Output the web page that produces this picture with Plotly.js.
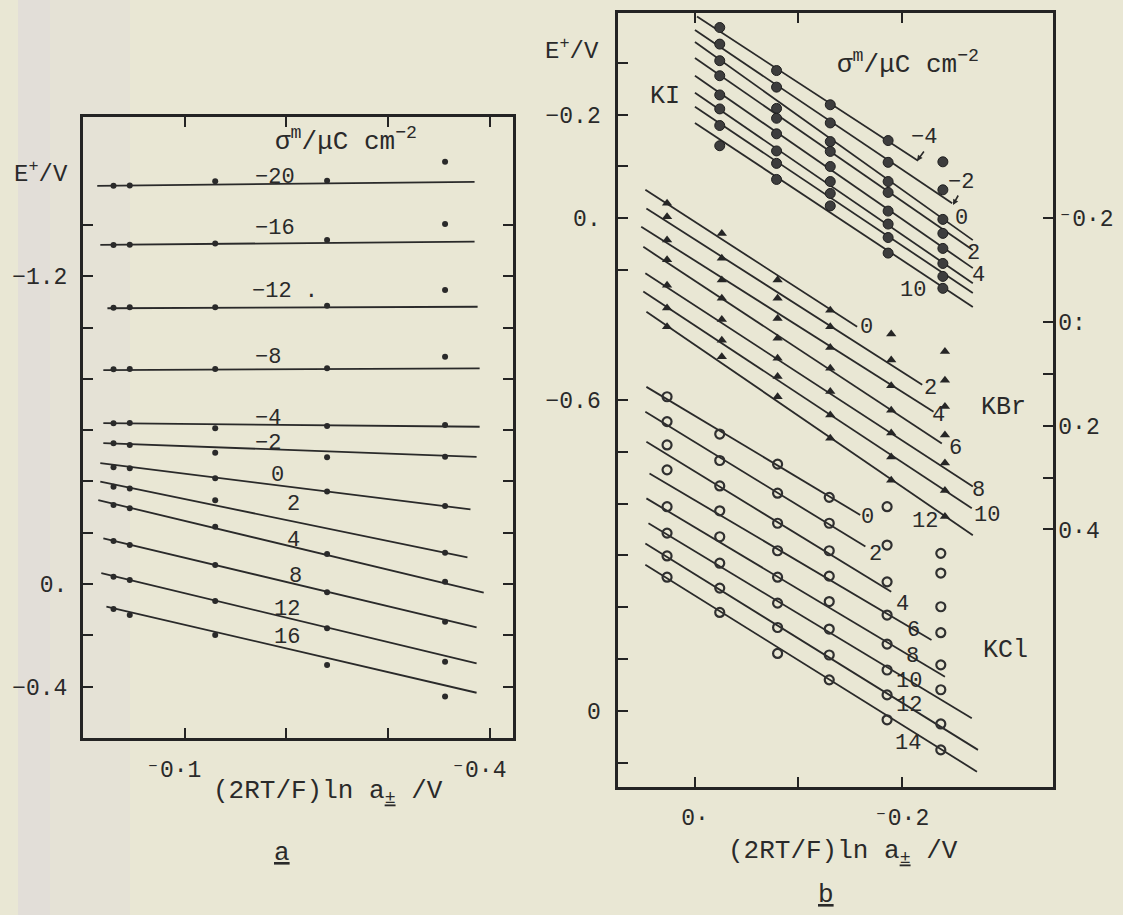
<!DOCTYPE html>
<html>
<head>
<meta charset="utf-8">
<script src="https://cdn.plot.ly/plotly-3.0.1.min.js"></script>
<style>
  html, body { margin: 0; padding: 0; background: #e9e7d4; }
  #chart { width: 1123px; height: 915px; }
</style>
</head>
<body>
<div id="chart"></div>
<script>
// ---------- Panel a: E+ vs (2RT/F) ln a± at constant electrode charge ----------
const aConc = [-0.030, -0.046, -0.130, -0.240, -0.356];
const aSigma = ['−20', '−16', '−12', '−8', '−4', '−2', '0', '2', '4', '8', '12', '16'];
const aE = [
  [-1.553, -1.554, -1.570, -1.572, -1.646],
  [-1.322, -1.323, -1.328, -1.341, -1.404],
  [-1.077, -1.079, -1.079, -1.085, -1.146],
  [-0.837, -0.838, -0.838, -0.841, -0.886],
  [-0.627, -0.628, -0.607, -0.616, -0.620],
  [-0.549, -0.542, -0.512, -0.494, -0.496],
  [-0.455, -0.451, -0.412, -0.361, -0.304],
  [-0.379, -0.372, -0.327, null, -0.122],
  [-0.308, -0.295, -0.223, -0.117, -0.009],
  [-0.168, -0.152, -0.074, 0.032, 0.147],
  [-0.028, -0.016, 0.066, 0.173, 0.303],
  [0.097, 0.121, 0.199, 0.316, 0.439]
];
// fitted straight lines (start and end of each drawn line)
const aLineX0 = [-0.014, -0.017, -0.024, -0.020, -0.020, -0.020, -0.017, -0.017, -0.015, -0.020, -0.018, -0.023];
const aLineY0 = [-1.552, -1.322, -1.075, -0.834, -0.627, -0.549, -0.471, -0.399, -0.327, -0.178, -0.042, 0.088];
const aLineX1 = [-0.385, -0.385, -0.388, -0.390, -0.390, -0.387, -0.381, -0.378, -0.394, -0.387, -0.387, -0.387];
const aLineY1 = [-1.568, -1.335, -1.081, -0.841, -0.613, -0.496, -0.291, -0.104, 0.034, 0.169, 0.309, 0.424];

// ---------- Panel b: KI ----------
const kiConc = [-0.024, -0.079, -0.131, -0.187, -0.240];
const kiSigma = ['−4', '−2', '0', '2', '4', '6', '8', '10'];
const kiE = [
  [-1.318, -1.235, -1.169, -1.100, -1.059],
  [-1.286, -1.203, -1.134, -1.058, -1.005],
  [-1.254, -1.162, -1.098, -1.021, -0.948],
  [-1.225, -1.143, -1.079, -1.000, -0.921],
  [-1.188, -1.113, -1.050, -0.964, -0.892],
  [-1.161, -1.080, -1.021, -0.939, -0.863],
  [-1.129, -1.056, -0.998, -0.913, -0.838],
  [-1.090, -1.025, -0.974, -0.883, -0.815]
];
const kiLineX0 = [-0.002, 0, 0, 0, 0, 0, 0, 0];
const kiLineY0 = [-1.339, -1.313, -1.290, -1.259, -1.225, -1.192, -1.165, -1.134];
const kiLineX1 = [-0.216, -0.249, -0.269, -0.269, -0.269, -0.269, -0.269, -0.269];
const kiLineY1 = [-1.061, -0.979, -0.908, -0.889, -0.854, -0.825, -0.806, -0.779];

// ---------- Panel b: KBr ----------
const kbrConc = [0.027, -0.026, -0.080, -0.131, -0.190, -0.242];
const kbrSigma = ['0', '2', '4', '6', '8', '10', '12'];
const kbrE = [
  [-0.979, -0.921, -0.831, -0.773, -0.727, -0.693],
  [-0.953, -0.873, -0.796, -0.741, -0.677, -0.638],
  [-0.908, -0.831, -0.757, -0.701, -0.627, -0.587],
  [-0.870, -0.796, -0.719, -0.661, -0.580, -0.532],
  [-0.821, -0.755, -0.680, -0.616, -0.536, -0.478],
  [-0.777, -0.715, -0.645, -0.571, -0.490, -0.425],
  [-0.741, -0.683, -0.606, -0.526, -0.445, -0.375]
];
const kbrLineX0 = [0.048, 0.047, 0.052, 0.050, 0.048, 0.050, 0.047];
const kbrLineY0 = [-1.005, -0.969, -0.934, -0.895, -0.844, -0.809, -0.770];
const kbrLineX1 = [-0.157, -0.220, -0.231, -0.239, -0.269, -0.268, -0.269];
const kbrLineY1 = [-0.741, -0.629, -0.577, -0.516, -0.433, -0.391, -0.339];

// ---------- Panel b: KCl ----------
const kclConc = [0.027, -0.024, -0.080, -0.130, -0.186, -0.238];
const kclSigma = ['0', '2', '4', '6', '8', '10', '12', '14'];
const kclE = [
  [-0.606, -0.534, -0.476, -0.412, -0.394, -0.304],
  [-0.558, -0.483, -0.420, -0.362, -0.320, -0.266],
  [-0.513, -0.434, -0.362, -0.309, -0.249, -0.201],
  [-0.465, -0.386, -0.309, -0.260, -0.185, -0.151],
  [-0.394, -0.336, -0.258, -0.211, -0.129, -0.089],
  [-0.343, -0.285, -0.208, -0.158, -0.079, -0.041],
  [-0.299, -0.237, -0.161, -0.108, -0.031, 0.025],
  [-0.258, -0.190, -0.111, -0.060, 0.017, 0.075]
];
const kclLineX0 = [0.047, 0.048, 0.047, 0.044, 0.047, 0.045, 0.048, 0.048];
const kclLineY0 = [-0.625, -0.577, -0.519, -0.458, -0.410, -0.362, -0.323, -0.282];
const kclLineX1 = [-0.160, -0.165, -0.190, -0.229, -0.242, -0.268, -0.274, -0.273];
const kclLineY1 = [-0.378, -0.317, -0.230, -0.137, -0.066, 0.014, 0.075, 0.117];

// ---------- axis ticks (labelled major ticks, unlabelled minor ticks) ----------
const aXTickVals = [-0.1, -0.4];
const aXTickText = ['⁻0·1', '⁻0·4'];
const aXMinorVals = [-0.2, -0.3];
const aYTickVals = [-1.2, 0, 0.4];
const aYTickText = ['−1.2', '0.', '−0.4'];
const aYMinorVals = [-1.4, -1.0, -0.8, -0.6, -0.4, -0.2, 0.2];
const bXTickVals = [0, -0.2];
const bXTickText = ['0·', '⁻0·2'];
const bXMinorVals = [-0.1];
const bYTickVals = [-1.15, -0.95, -0.6, 0];
const bYTickText = ['−0.2', '0.', '−0.6', '0'];
const bYMinorVals = [-1.25, -1.05, -0.85, -0.5, -0.4, -0.3, -0.2, -0.1, 0.1];
const bRightTickVals = [-0.95, -0.75, -0.55, -0.35];
const bRightTickText = ['⁻0·2', '0:', '0·2', '0·4'];
const bRightMinorVals = [-0.65, -0.45];

// ---------- drawing ----------
const W = 1123, H = 915;
const INK = '#2a2a2a';
const FONT = '"Liberation Mono", "DejaVu Sans Mono", monospace';
const BG = '#e9e7d4';

const traces = [];

function addSet(xs, rows, lx0, ly0, lx1, ly1, xa, ya, marker) {
  rows.forEach((row, i) => {
    traces.push({
      x: [lx0[i], lx1[i]], y: [ly0[i], ly1[i]],
      xaxis: xa, yaxis: ya, mode: 'lines',
      line: { color: INK, width: 1.8 },
      hoverinfo: 'skip', showlegend: false
    });
    traces.push({
      x: xs, y: row, xaxis: xa, yaxis: ya, mode: 'markers',
      marker: marker, showlegend: false, cliponaxis: false
    });
  });
}

addSet(aConc, aE, aLineX0, aLineY0, aLineX1, aLineY1, 'x', 'y',
  { symbol: 'circle', size: 6, color: INK });
addSet(kiConc, kiE, kiLineX0, kiLineY0, kiLineX1, kiLineY1, 'x2', 'y2',
  { symbol: 'circle', size: 10, color: '#3d3d3d', line: { color: '#1e1e1e', width: 1 } });
addSet(kbrConc, kbrE, kbrLineX0, kbrLineY0, kbrLineX1, kbrLineY1, 'x2', 'y2',
  { symbol: 'triangle-up', size: 9, color: '#262626' });
addSet(kclConc, kclE, kclLineX0, kclLineY0, kclLineX1, kclLineY1, 'x2', 'y2',
  { symbol: 'circle-open', size: 9, color: '#303030', line: { color: '#303030', width: 2.2 } });

// right-hand scale of panel b
traces.push({ x: [], y: [], xaxis: 'x2', yaxis: 'y3', mode: 'markers', showlegend: false });

// place text by pixel position on the page
function at(px, py) { return { x: px / W, y: 1 - py / H }; }
function label(text, px, py, size) {
  const p = at(px, py);
  return {
    xref: 'paper', yref: 'paper', x: p.x, y: p.y, text: text,
    showarrow: false, xanchor: 'center', yanchor: 'middle', borderpad: 0,
    font: { family: FONT, size: size || 24, color: INK }
  };
}
function arrow(tipX, tipY, ax, ay) {
  const p = at(tipX, tipY);
  return {
    xref: 'paper', yref: 'paper', x: p.x, y: p.y, text: '',
    showarrow: true, ax: ax, ay: ay, arrowhead: 2, arrowsize: 0.7,
    arrowwidth: 1.6, arrowcolor: INK
  };
}
const S = 22;   // curve-label size

const annotations = [
  // panel a
  label('E<sup>+</sup>/V', 41, 172),
  label('σ<sup>m</sup>/μC cm<sup>−2</sup>', 346, 140, 26),
  label(aSigma[0], 275, 177, S), label(aSigma[1], 275, 228, S), label(aSigma[2] + ' .', 285, 292, S),
  label(aSigma[3], 268, 358, S), label(aSigma[4], 268, 419, S), label(aSigma[5], 268, 443, S),
  label(aSigma[6], 277, 475, S), label(aSigma[7], 293, 505, S), label(aSigma[8], 293, 540, S),
  label(aSigma[9], 295, 576, S), label(aSigma[10], 287, 609, S), label(aSigma[11], 287, 637, S),
  label('(2RT/F)ln a<sub><u>±</u></sub> /V', 328, 792, 26),
  label('<u>a</u>', 282, 853, 26),
  // panel b
  label('E<sup>+</sup>/V', 572, 50),
  label('σ<sup>m</sup>/μC cm<sup>−2</sup>', 908, 63, 26),
  label('KI', 665, 96, 25), label('KBr', 1003, 407, 25), label('KCl', 1005, 650, 25),
  label(kiSigma[0], 924, 137, S), label(kiSigma[1], 961, 183, S), label(kiSigma[2], 961, 218, S),
  label(kiSigma[3], 973, 253, S), label(kiSigma[4], 978, 275, S), label(kiSigma[7], 913, 290, S),
  arrow(917, 161, 8, -11), arrow(953, 205, 6, -11),
  label(kbrSigma[0], 866, 327, S), label(kbrSigma[1], 930, 388, S), label(kbrSigma[2], 938, 415, S),
  label(kbrSigma[3], 955, 448, S), label(kbrSigma[4], 978, 490, S), label(kbrSigma[5], 987, 515, S),
  label(kbrSigma[6], 925, 521, S),
  label(kclSigma[0], 867, 517, S), label(kclSigma[1], 875, 554, S), label(kclSigma[2], 902, 604, S),
  label(kclSigma[3], 913, 630, S), label(kclSigma[4], 912, 656, S), label(kclSigma[5], 909, 681, S),
  label(kclSigma[6], 909, 705, S), label(kclSigma[7], 908, 743, S),
  label('(2RT/F)ln a<sub><u>±</u></sub> /V', 843, 852, 26),
  label('<u>b</u>', 826, 895, 26)
];

const axisCommon = {
  showgrid: false, zeroline: false, showline: true,
  linecolor: '#242424', linewidth: 3,
  ticks: 'inside', ticklen: 10, tickwidth: 2, tickcolor: '#242424',
  tickmode: 'array', fixedrange: true,
  tickfont: { family: FONT, size: 23, color: INK }
};
function minorTicks(vals) {
  return { tickmode: 'array', tickvals: vals, ticks: 'inside', ticklen: 10,
           tickwidth: 2, tickcolor: '#242424', showgrid: false };
}

const layout = {
  width: W, height: H,
  margin: { l: 0, r: 0, t: 0, b: 0 },
  paper_bgcolor: BG, plot_bgcolor: 'rgba(0,0,0,0)',
  showlegend: false,
  xaxis: Object.assign({}, axisCommon, {
    domain: [83 / W, 513 / W], anchor: 'y', range: [0, -0.4228],
    tickvals: aXTickVals, ticktext: aXTickText, minor: minorTicks(aXMinorVals),
    mirror: 'ticks', ticklabelstandoff: 8, ticklabelshift: 11
  }),
  yaxis: Object.assign({}, axisCommon, {
    domain: [1 - 738 / H, 1 - 117 / H], anchor: 'x', range: [0.6004, -1.8207],
    tickvals: aYTickVals, ticktext: aYTickText, minor: minorTicks(aYMinorVals),
    mirror: 'ticks', ticklabelstandoff: 8
  }),
  xaxis2: Object.assign({}, axisCommon, {
    domain: [618.3 / W, 1053.3 / W], anchor: 'y2', range: [0.0742, -0.3469],
    tickvals: bXTickVals, ticktext: bXTickText, minor: minorTicks(bXMinorVals),
    mirror: 'ticks', ticklabelstandoff: 8
  }),
  yaxis2: Object.assign({}, axisCommon, {
    domain: [1 - 786.7 / H, 1 - 13.3 / H], anchor: 'x2', range: [0.1460, -1.3454],
    tickvals: bYTickVals, ticktext: bYTickText, minor: minorTicks(bYMinorVals),
    mirror: true, ticklabelstandoff: 10
  }),
  yaxis3: Object.assign({}, axisCommon, {
    overlaying: 'y2', side: 'right', anchor: 'x2', range: [0.1460, -1.3454],
    tickvals: bRightTickVals, ticktext: bRightTickText, minor: minorTicks(bRightMinorVals),
    showline: false, ticklabelstandoff: 4
  }),
  annotations: annotations,
  shapes: [
    { type: 'rect', xref: 'paper', yref: 'paper', layer: 'below',
      x0: 18 / W, x1: 50 / W, y0: 0, y1: 1, line: { width: 0 },
      fillcolor: 'rgba(208,196,228,0.26)' },
    { type: 'rect', xref: 'paper', yref: 'paper', layer: 'below',
      x0: 50 / W, x1: 130 / W, y0: 0, y1: 1, line: { width: 0 },
      fillcolor: 'rgba(208,196,228,0.13)' }
  ]
};

Plotly.newPlot('chart', traces, layout, { displayModeBar: false, staticPlot: true });
</script>
</body>
</html>
